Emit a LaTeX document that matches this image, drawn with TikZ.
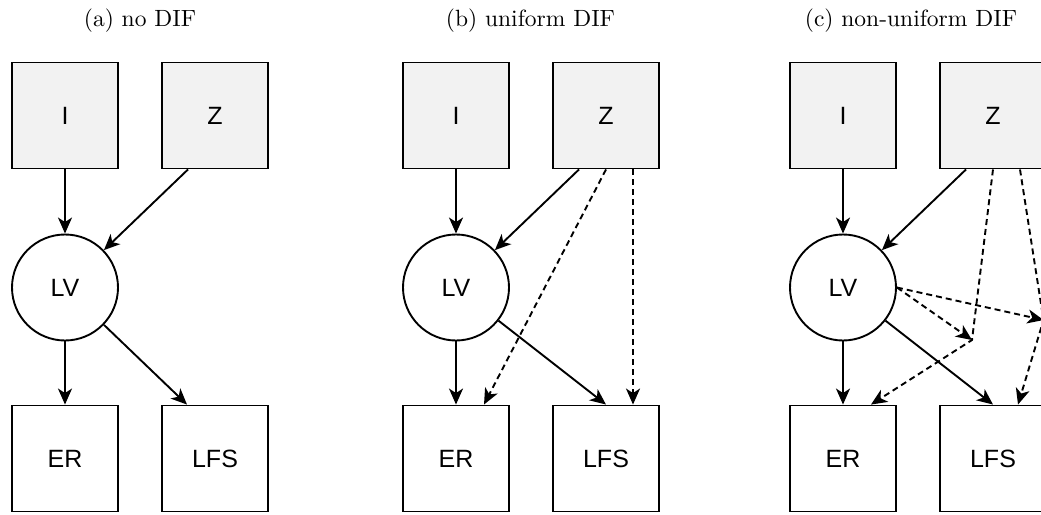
\documentclass[tikz,border=0pt]{standalone}
\usepackage{fontspec}
\newfontfamily\labfont{Liberation Sans}
\newfontfamily\ttlfont{lmroman10-regular}[Extension=.otf]
\usetikzlibrary{arrows.meta,calc}
\definecolor{boxgray}{RGB}{242,242,242}
\begin{document}
\begin{tikzpicture}[x=1pt,y=-1pt,
  base/.style={draw, line width=1.9pt, inner sep=0pt, font=\labfont\fontsize{25}{29}\selectfont},
  sq/.style={base, rectangle, minimum size=106pt, fill=white},
  obs/.style={sq, fill=boxgray},
  lv/.style={base, circle, minimum size=106pt, fill=white},
  arr/.style={line width=1.9pt, -{Stealth[length=16pt,width=14pt,inset=4.5pt]}},
  darr/.style={arr, dash pattern=on 6pt off 4pt},
  ttl/.style={font=\ttlfont\fontsize{23.5}{27}\selectfont, anchor=base}
]
\useasboundingbox (0,0) rectangle (1041,514);
\clip (0,0) rectangle (1041,514);

% titles
\node[ttl] (ta) at (140,27) {(a) no DIF};
\node[ttl] (tb) at (530.5,27) {(b) uniform DIF};
\node[ttl] (tc) at (911,27) {(c) non-uniform DIF};

% panel a
\node[obs] (Ia) at (65,115.5) {I};
\node[obs] (Za) at (215,115.5) {Z};
\node[lv] (LVa) at (65,287.5) {LV};
\node[sq] (ERa) at (65,458.5) {ER};
\node[sq] (LFSa) at (215,458.5) {LFS};
\draw[arr] (Ia) -- (LVa);
\draw[arr] ($(Za.south)+(-27,0)$) -- (LVa);
\draw[arr] (LVa) -- (ERa);
\draw[arr] (LVa) -- ($(LFSa.north)+(-28,0)$);

% panel b
\node[obs] (Ib) at (456,115.5) {I};
\node[obs] (Zb) at (606,115.5) {Z};
\node[lv] (LVb) at (456,287.5) {LV};
\node[sq] (ERb) at (456,458.5) {ER};
\node[sq] (LFSb) at (606,458.5) {LFS};
\draw[arr] (Ib) -- (LVb);
\draw[arr] ($(Zb.south)+(-27,0)$) -- (LVb);
\draw[darr] (Zb.south) -- ($(ERb.north)+(28,0)$);
\draw[darr] ($(Zb.south)+(27,0)$) -- ($(LFSb.north)+(27,0)$);
\draw[arr] (LVb) -- (ERb);
\draw[arr] (LVb) -- (LFSb.north);

% panel c
\node[obs] (Ic) at (843,115.5) {I};
\node[obs] (Zc) at (993,115.5) {Z};
\node[lv] (LVc) at (843,287.5) {LV};
\node[sq] (ERc) at (843,458.5) {ER};
\node[sq] (LFSc) at (993,458.5) {LFS};
\coordinate (W1) at (972,340);
\coordinate (W2) at (1043.5,320);
\draw[arr] (Ic) -- (LVc);
\draw[arr] ($(Zc.south)+(-27,0)$) -- (LVc);
\draw[darr] (Zc.south) -- (W1) -- ($(ERc.north)+(28,0)$);
\draw[darr] ($(Zc.south)+(27,0)$) -- (W2) -- ($(LFSc.north)+(25,0)$);
\draw[darr] (LVc.east) -- (W1);
\draw[darr] (LVc.east) -- (W2);
\draw[arr] (LVc) -- (ERc);
\draw[arr] (LVc) -- (LFSc.north);
\end{tikzpicture}
\end{document}
